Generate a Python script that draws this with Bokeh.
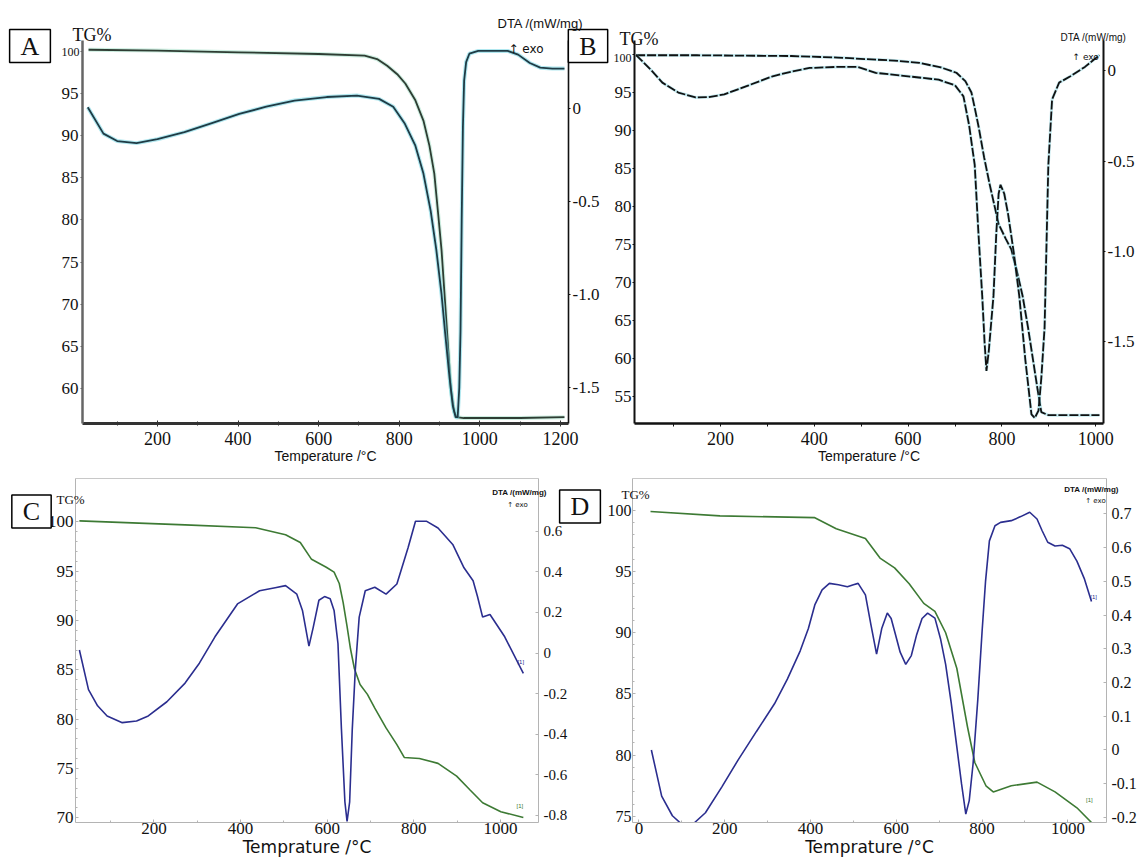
from bokeh.plotting import figure
from bokeh.models import Range1d, LinearAxis, FixedTicker, CustomJSTickFormatter, Label, GridBox
from bokeh.layouts import row, column
from bokeh.embed import file_html
from bokeh.resources import INLINE

SERIF = "Liberation Serif"
SANS = "Liberation Sans"

# ---------------- data ----------------
# Panel A
A_TG_T = [29, 200, 400, 600, 714, 745, 770, 795, 815, 840, 860, 875, 887, 897, 905, 919, 928, 936, 942, 960, 1100, 1210]
A_TG = [100.2, 100.1, 99.9, 99.7, 99.5, 99.1, 98.3, 97.3, 96.2, 94.2, 91.8, 88.8, 85.5, 80.5, 76.4, 66.5, 60.0, 57.3, 56.6, 56.5, 56.5, 56.6]
A_DTA_T = [27, 66, 100, 148, 200, 267, 335, 403, 470, 540, 620, 695, 750, 785, 814, 840, 860, 878, 892, 905,
           914, 925, 933, 940, 945, 949, 952, 955, 958, 961, 966, 974, 996, 1040, 1069, 1095, 1124, 1150, 1180, 1210]
A_DTA = [0.007, -0.135, -0.175, -0.186, -0.165, -0.127, -0.078, -0.029, 0.01, 0.043, 0.062, 0.07, 0.052, 0.01, -0.082, -0.2, -0.35, -0.55, -0.76, -1.0,
         -1.21, -1.45, -1.6, -1.66, -1.66, -1.5, -1.2, -0.6, -0.1, 0.15, 0.25, 0.295, 0.31, 0.31, 0.31, 0.29, 0.245, 0.22, 0.215, 0.215]

# Panel B
B_TG_T = [20, 150, 351, 450, 507, 570, 624, 670, 703, 722, 735, 742, 750, 762, 774, 793, 808, 820, 832, 844, 856, 867, 876, 884, 899, 1008]
B_TG = [99.9, 99.9, 99.8, 99.6, 99.4, 99.2, 98.9, 98.3, 97.6, 96.5, 95.0, 93.0, 90.6, 86.5, 82.9, 77.7, 75.8, 74.4, 71.5, 68.3, 64.0, 59.6, 56.0, 53.0, 52.6, 52.6]
B_DTA_T = [20, 50, 76, 110, 147, 175, 208, 260, 311, 350, 390, 450, 492, 531, 600, 665, 700, 718, 730, 742,
           750, 758, 763, 767, 772, 782, 788, 793, 797, 805, 813, 825, 837, 850, 863, 870, 878, 884, 891, 899,
           907, 922, 946, 977, 1008]
B_DTA = [0.087, 0.01, -0.065, -0.12, -0.147, -0.145, -0.13, -0.08, -0.03, -0.005, 0.016, 0.022, 0.022, -0.011, -0.03, -0.049, -0.08, -0.141, -0.3, -0.52,
         -0.9, -1.245, -1.5, -1.66, -1.55, -1.245, -0.9, -0.68, -0.63, -0.68, -0.79, -1.0, -1.245, -1.6, -1.9, -1.92, -1.88, -1.7, -1.42, -0.52,
         -0.158, -0.065, -0.03, 0.022, 0.087]

# Panel C
C_TG_T = [28, 150, 272, 435, 504, 538, 564, 598, 616, 628, 637, 646, 654, 663, 676, 693, 710, 736, 761, 778, 813, 856, 899, 930, 959, 1001, 1053]
C_TG = [100.1, 99.9, 99.7, 99.4, 98.7, 97.9, 96.2, 95.4, 94.9, 93.75, 91.8, 89.4, 87.1, 85.1, 83.5, 82.5, 81.1, 79.1, 77.4, 76.1, 76.0, 75.5, 74.2, 72.8, 71.5, 70.6, 70.0]
C_DTA_T = [28, 49, 70, 92, 127, 160, 187, 230, 272, 305, 341, 393, 444, 480, 504, 530, 543, 558, 568, 581,
           594, 607, 616, 625, 633, 641, 646, 652, 658, 665, 674, 688, 710, 736, 761, 787, 804, 830, 856, 890,
           916, 937, 947, 959, 976, 1010, 1053]
C_DTA = [0.015, -0.18, -0.26, -0.31, -0.343, -0.335, -0.31, -0.24, -0.148, -0.05, 0.08, 0.242, 0.307, 0.322, 0.332, 0.29, 0.21, 0.034, 0.128, 0.26,
         0.278, 0.267, 0.21, 0.047, -0.375, -0.733, -0.83, -0.733, -0.376, -0.083, 0.177, 0.307, 0.324, 0.29, 0.34, 0.52, 0.649, 0.649, 0.616, 0.535,
         0.42, 0.356, 0.28, 0.177, 0.19, 0.08, -0.1]

# Panel D
D_TG_T = [27, 189, 410, 460, 528, 562, 596, 630, 664, 690, 715, 741, 766, 783, 809, 826, 868, 928, 970, 1021, 1055]
D_TG = [99.9, 99.55, 99.4, 98.5, 97.7, 96.1, 95.3, 94.0, 92.4, 91.75, 90.0, 87.1, 82.3, 79.4, 77.5, 77.0, 77.5, 77.8, 77.0, 75.7, 74.5]
D_DTA_T = [29, 53, 78, 104, 130, 155, 193, 231, 274, 316, 346, 376, 395, 410, 427, 444, 465, 486, 500, 511,
           528, 541, 554, 566, 579, 588, 596, 609, 622, 635, 647, 660, 673, 690, 703, 715, 728, 741, 752, 762,
           770, 779, 790, 800, 808, 817, 830, 843, 868, 890, 911, 928, 940, 953, 970, 987, 1004, 1021, 1038, 1055]
D_DTA = [0.0, -0.137, -0.195, -0.225, -0.215, -0.186, -0.11, -0.03, 0.055, 0.137, 0.21, 0.294, 0.36, 0.43, 0.475, 0.494, 0.49, 0.484, 0.49, 0.494,
         0.46, 0.37, 0.284, 0.36, 0.406, 0.39, 0.352, 0.29, 0.254, 0.28, 0.34, 0.39, 0.406, 0.391, 0.33, 0.254, 0.14, 0.01, -0.1, -0.19,
         -0.15, -0.04, 0.15, 0.352, 0.5, 0.62, 0.665, 0.675, 0.68, 0.692, 0.705, 0.685, 0.65, 0.616, 0.605, 0.607, 0.597, 0.56, 0.509, 0.44]

# tick labels
A_X_TICKS = [200, 400, 600, 800, 1000, 1200]
A_Y_TICKS = [60, 65, 70, 75, 80, 85, 90, 95, 100]
A_DTA_TICKS = [0, -0.5, -1.0, -1.5]
B_X_TICKS = [200, 400, 600, 800, 1000]
B_Y_TICKS = [55, 60, 65, 70, 75, 80, 85, 90, 95, 100]
B_DTA_TICKS = [0, -0.5, -1.0, -1.5]
C_X_TICKS = [200, 400, 600, 800, 1000]
C_Y_TICKS = [70, 75, 80, 85, 90, 95, 100]
C_DTA_TICKS = [-0.8, -0.6, -0.4, -0.2, 0, 0.2, 0.4, 0.6]
D_X_TICKS = [0, 200, 400, 600, 800, 1000]
D_Y_TICKS = [75, 80, 85, 90, 95, 100]
D_DTA_TICKS = [-0.2, -0.1, 0, 0.1, 0.2, 0.3, 0.4, 0.5, 0.6, 0.7]

# ranges
A_XR, A_YR, A_DR = (14, 1220), (55.85, 101.3), (-1.694, 0.366)
B_XR, B_YR, B_DR = (16.6, 1016.6), (51.5, 101.84), (-1.951, 0.168)
C_XR, C_YR, C_DR = (19, 1088), (69.5, 104.4), (-0.835, 0.86)
D_XR, D_YR, D_DR = (-15, 1090), (74.5, 102.6), (-0.215, 0.805)

GREEN = "#3d7a34"
NAVY = "#2b2e8f"
LGRAY = "#b4b4b4"


def make_fig(w, h, xr, yr, dr, bl, br, bt, bb):
    p = figure(width=w, height=h, x_range=Range1d(*xr), y_range=Range1d(*yr),
               output_backend="svg", toolbar_location=None,
               min_border_left=bl, min_border_right=br, min_border_top=bt, min_border_bottom=bb)
    p.extra_y_ranges = {"dta": Range1d(*dr)}
    p.grid.visible = False
    p.outline_line_color = None
    p.background_fill_color = "white"
    p.border_fill_color = "white"
    return p


def style_axis(ax, color, width, size, font=SERIF, tin=0, tout=3, mtin=0, mtout=0, standoff=2):
    ax.axis_line_color = color
    ax.axis_line_width = width
    ax.major_tick_line_color = color
    ax.minor_tick_line_color = color if (mtin or mtout) else None
    ax.major_tick_in = tin
    ax.major_tick_out = tout
    ax.minor_tick_in = mtin
    ax.minor_tick_out = mtout
    ax.major_label_text_font = font
    ax.major_label_text_font_size = f"{size}px"
    ax.major_label_text_color = "#111111"
    ax.major_label_standoff = standoff


def xtitle(ax, text, font, size, standoff=0):
    ax.axis_label = text
    ax.axis_label_text_font = font
    ax.axis_label_text_font_size = f"{size}px"
    ax.axis_label_text_font_style = "normal"
    ax.axis_label_text_color = "#111111"
    ax.axis_label_standoff = standoff


def top_rule(p):
    ax = LinearAxis(ticker=FixedTicker(ticks=[], minor_ticks=[]))
    ax.axis_line_color = "#c8c8c8"
    ax.major_label_text_color = None
    ax.major_tick_line_color = None
    ax.minor_tick_line_color = None
    p.add_layout(ax, "above")


def text(p, x, y, t, size, font=SERIF, color="#111111", align="left", style="normal", box=False,
         y_range_name="default"):
    kw = {}
    if box:
        kw = dict(border_line_color="black", border_line_width=1.5, background_fill_color="white",
                  padding=dict(left=11, right=11, top=2, bottom=2))
    p.add_layout(Label(x=x, y=y, text=t, text_font=font, text_font_size=f"{size}px",
                       text_color=color, text_align=align, text_baseline="middle",
                       text_font_style=style, y_range_name=y_range_name, **kw))


DTA_FMT = "return tick == 0 ? '0' : tick.toFixed(1);"
NO100_FMT = "return tick == 100 ? '' : String(tick);"

# ---------------- Panel A ----------------
pA = make_fig(608, 466, A_XR, A_YR, A_DR, 82, 40, 40, 43)
pA.line(A_TG_T, A_TG, line_color="#a6e0c8", line_width=4, line_alpha=0.55)
pA.line(A_TG_T, A_TG, line_color="#2e3d33", line_width=1.8)
pA.line(A_DTA_T, A_DTA, y_range_name="dta", line_color="#6fd3e2", line_width=4, line_alpha=0.55)
pA.line(A_DTA_T, A_DTA, y_range_name="dta", line_color="#1f3b45", line_width=1.8)
ax = pA.xaxis[0]
ax.ticker = FixedTicker(ticks=A_X_TICKS, minor_ticks=[100, 300, 500, 700, 900, 1100])
style_axis(ax, "#333333", 3, 18, tin=3, tout=3, mtin=2, mtout=2, standoff=5)
xtitle(ax, "Temperature /°C", SANS, 14)
ay = pA.yaxis[0]
ay.ticker = FixedTicker(ticks=A_Y_TICKS, minor_ticks=[])
ay.formatter = CustomJSTickFormatter(code=NO100_FMT)
style_axis(ay, "#666666", 2.5, 17, tin=0, tout=2)
ar = LinearAxis(y_range_name="dta", ticker=FixedTicker(ticks=A_DTA_TICKS, minor_ticks=[]),
                formatter=CustomJSTickFormatter(code=DTA_FMT))
style_axis(ar, "#111111", 1.6, 17, tin=0, tout=2)
pA.add_layout(ar, "right")

# ---------------- Panel B ----------------
pB = make_fig(536, 466, B_XR, B_YR, B_DR, 26, 41, 40, 43)
pB.line(B_TG_T, B_TG, line_color="#55c4d4", line_width=3, line_alpha=0.35)
pB.line(B_TG_T, B_TG, line_color="#111111", line_width=1.8, line_dash="9 2")
pB.line(B_DTA_T, B_DTA, y_range_name="dta", line_color="#55c4d4", line_width=3, line_alpha=0.35)
pB.line(B_DTA_T, B_DTA, y_range_name="dta", line_color="#111111", line_width=1.8, line_dash="9 2")
bx = pB.xaxis[0]
bx.ticker = FixedTicker(ticks=B_X_TICKS, minor_ticks=[100, 300, 500, 700, 900])
style_axis(bx, "#111111", 2.5, 18, tin=0, tout=3, mtin=0, mtout=3, standoff=5)
xtitle(bx, "Temperature /°C", SANS, 14)
by = pB.yaxis[0]
by.ticker = FixedTicker(ticks=B_Y_TICKS, minor_ticks=[])
by.formatter = CustomJSTickFormatter(code=NO100_FMT)
style_axis(by, "#111111", 2, 17, tin=0, tout=2, standoff=1)
br = LinearAxis(y_range_name="dta", ticker=FixedTicker(ticks=B_DTA_TICKS, minor_ticks=[]),
                formatter=CustomJSTickFormatter(code=DTA_FMT))
style_axis(br, "#111111", 2, 17, tin=0, tout=2)
pB.add_layout(br, "right")

# ---------------- Panel C ----------------
pC = make_fig(604, 396, C_XR, C_YR, C_DR, 75, 66, 12, 40)
pC.line(C_TG_T, C_TG, line_color=GREEN, line_width=1.6)
pC.line(C_DTA_T, C_DTA, y_range_name="dta", line_color=NAVY, line_width=1.6)
cx = pC.xaxis[0]
cx.ticker = FixedTicker(ticks=C_X_TICKS, minor_ticks=[100, 300, 500, 700, 900])
style_axis(cx, LGRAY, 1, 17, tin=3, tout=0, mtin=2, mtout=0, standoff=0)
xtitle(cx, "Temprature /°C", "DejaVu Sans", 17)
cy = pC.yaxis[0]
cy.ticker = FixedTicker(ticks=C_Y_TICKS, minor_ticks=[71, 72, 73, 74, 76, 77, 78, 79, 81, 82, 83, 84, 86, 87, 88, 89, 91, 92, 93, 94, 96, 97, 98, 99])
style_axis(cy, LGRAY, 1, 17, tin=3, tout=0, mtin=2, mtout=0)
cr = LinearAxis(y_range_name="dta", ticker=FixedTicker(ticks=C_DTA_TICKS, minor_ticks=[]),
                formatter=CustomJSTickFormatter(code=DTA_FMT))
style_axis(cr, LGRAY, 1, 15, tin=3, tout=0, standoff=5)
pC.add_layout(cr, "right")
top_rule(pC)
text(pC, 1047, -0.045, "[1]", 6, font=SANS, color=NAVY, align="center", y_range_name="dta")
text(pC, 1045, 71.2, "[1]", 6, font=SANS, color=GREEN, align="center")

# ---------------- Panel D ----------------
pD = make_fig(540, 396, D_XR, D_YR, D_DR, 25, 38, 12, 40)
pD.line(D_TG_T, D_TG, line_color=GREEN, line_width=1.6)
pD.line(D_DTA_T, D_DTA, y_range_name="dta", line_color=NAVY, line_width=1.6)
dx = pD.xaxis[0]
dx.ticker = FixedTicker(ticks=D_X_TICKS, minor_ticks=[100, 300, 500, 700, 900])
style_axis(dx, LGRAY, 1, 17, tin=3, tout=0, mtin=2, mtout=0, standoff=0)
xtitle(dx, "Temprature /°C", "DejaVu Sans", 17)
dy = pD.yaxis[0]
dy.ticker = FixedTicker(ticks=D_Y_TICKS, minor_ticks=[76, 77, 78, 79, 81, 82, 83, 84, 86, 87, 88, 89, 91, 92, 93, 94, 96, 97, 98, 99])
style_axis(dy, LGRAY, 1, 16, tin=3, tout=0, mtin=2, mtout=0, standoff=1)
dr = LinearAxis(y_range_name="dta", ticker=FixedTicker(ticks=D_DTA_TICKS, minor_ticks=[]),
                formatter=CustomJSTickFormatter(code=DTA_FMT))
style_axis(dr, LGRAY, 1, 16, tin=3, tout=0, standoff=5)
pD.add_layout(dr, "right")
top_rule(pD)
text(pD, 1060, 0.455, "[1]", 6, font=SANS, color=NAVY, align="center", y_range_name="dta")
text(pD, 1050, 76.3, "[1]", 6, font=SANS, color=GREEN, align="center")

# ---------------- overlay with the panel annotations (page pixel space) ----------------
W, H = 1144, 862
ov = figure(width=W, height=H, x_range=Range1d(0, W), y_range=Range1d(H, 0),
            x_axis_type=None, y_axis_type=None, min_border=0,
            output_backend="svg", toolbar_location=None,
            background_fill_color=None, border_fill_color=None, outline_line_color=None)
ov.grid.visible = False

text(ov, 29.5, 45.5, "A", 26, align="center", box=True)
text(ov, 587.5, 45.5, "B", 26, align="center", box=True)
text(ov, 31, 511, "C", 26, align="center", box=True)
text(ov, 579.5, 506, "D", 26, align="center", box=True)

text(ov, 72, 34, "TG%", 18)
text(ov, 79, 51, "100", 12, align="right")
text(ov, 497, 23, "DTA /(mW/mg)", 13, font=SANS)
text(ov, 508, 48, "↑ exo", 12, font="DejaVu Sans")

text(ov, 619, 38, "TG%", 18)
text(ov, 631, 57, "100", 12, align="right")
text(ov, 1060, 37, "DTA /(mW/mg)", 10, font=SANS)
text(ov, 1072, 56, "↑ exo", 9, font="DejaVu Sans")

text(ov, 56, 499, "TG%", 13)
text(ov, 519, 492, "DTA /(mW/mg)", 8, font=SANS, align="center", style="bold")
text(ov, 517, 504, "↑ exo", 7, font="DejaVu Sans", align="center")

text(ov, 621, 494, "TG%", 13)
text(ov, 1091, 489, "DTA /(mW/mg)", 8, font=SANS, align="center", style="bold")
text(ov, 1095, 500, "↑ exo", 7, font="DejaVu Sans", align="center")

charts = column(row(pA, pB), row(pC, pD))
page = GridBox(children=[(charts, 0, 0), (ov, 0, 0)])
open("out.html", "w").write(file_html(page, INLINE))
